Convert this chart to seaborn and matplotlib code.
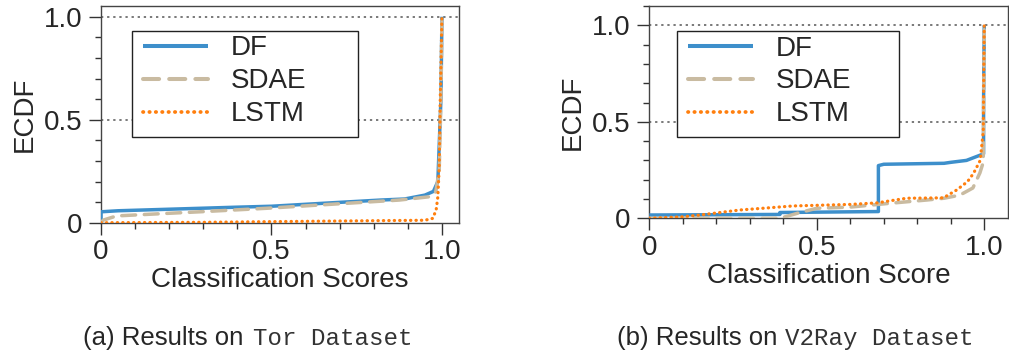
import pandas as pd
import numpy as np
import matplotlib
matplotlib.use('Agg')
import matplotlib.pyplot as plt
import seaborn as sns
from matplotlib.ticker import MultipleLocator, FixedLocator
from matplotlib.patches import Rectangle

sns.set_style('ticks')
plt.rcParams['font.family'] = ['Liberation Sans', 'DejaVu Sans']

# ECDF curves (score, ecdf)
tor_df_x = [0, 0, 0.05, 0.15, 0.39, 0.5, 0.68, 0.82, 0.89, 0.95, 0.975, 0.988, 0.997, 1.0]
tor_df_y = [0, 0.053, 0.058, 0.063, 0.075, 0.08, 0.097, 0.11, 0.115, 0.134, 0.152, 0.2, 0.6, 1.0]
tor_sdae_x = [0, 0.007, 0.046, 0.19, 0.29, 0.485, 0.68, 0.875, 0.963, 0.982, 0.992, 0.997, 1.0]
tor_sdae_y = [0, 0.013, 0.033, 0.045, 0.053, 0.07, 0.09, 0.11, 0.126, 0.15, 0.256, 0.6, 1.0]
tor_lstm_x = [0, 0.3, 0.68, 0.95, 0.973, 0.983, 0.988, 0.992, 0.995, 1.0]
tor_lstm_y = [0, 0.002, 0.008, 0.012, 0.021, 0.062, 0.126, 0.27, 0.6, 1.0]

v2_df_x = [0, 0.39, 0.39, 0.684, 0.684, 0.7, 0.88, 0.9, 0.947, 0.977, 0.998, 0.998, 1.0]
v2_df_y = [0.017, 0.02, 0.03, 0.035, 0.273, 0.28, 0.285, 0.29, 0.30, 0.32, 0.334, 0.6, 1.0]
v2_sdae_x = [0, 0.39, 0.45, 0.5, 0.6, 0.72, 0.83, 0.88, 0.927, 0.966, 0.987, 0.997, 1.0]
v2_sdae_y = [0, 0.0, 0.03, 0.052, 0.058, 0.078, 0.095, 0.104, 0.12, 0.157, 0.235, 0.29, 1.0]
v2_lstm_x = [0, 0.1, 0.151, 0.27, 0.43, 0.6, 0.68, 0.768, 0.878, 0.918, 0.95, 0.968, 0.988, 0.997, 1.0]
v2_lstm_y = [0, 0.008, 0.017, 0.043, 0.064, 0.072, 0.08, 0.104, 0.106, 0.147, 0.19, 0.233, 0.30, 0.45, 1.0]

models = ['DF', 'SDAE', 'LSTM']
colors = {'DF': '#3d8fcb', 'SDAE': '#c9bba1', 'LSTM': '#ff7f0e'}
styles = {'DF': '-', 'SDAE': (0, (4, 2.5)), 'LSTM': (0, (0.1, 1.6))}
widths = {'DF': 2.5, 'SDAE': 2.5, 'LSTM': 2.3}

tor = {'DF': (tor_df_x, tor_df_y), 'SDAE': (tor_sdae_x, tor_sdae_y), 'LSTM': (tor_lstm_x, tor_lstm_y)}
v2 = {'DF': (v2_df_x, v2_df_y), 'SDAE': (v2_sdae_x, v2_sdae_y), 'LSTM': (v2_lstm_x, v2_lstm_y)}

fig = plt.figure(figsize=(10.09, 3.56), dpi=100)
ax1 = fig.add_axes([0.1001, 0.3744, 0.3548, 0.6087])
ax2 = fig.add_axes([0.6435, 0.3868, 0.3552, 0.5963])


def draw(ax, curves, xlim, ylim, xlabel, leg_anchor, box):
    for m in models:
        x, y = curves[m]
        d = pd.DataFrame({'score': x, 'ecdf': y})
        sns.lineplot(data=d, x='score', y='ecdf', ax=ax, estimator=None, sort=False,
                     color=colors[m], linewidth=widths[m], label=m,
                     dash_capstyle='round', solid_capstyle='butt', zorder=3)
        ax.lines[-1].set_linestyle(styles[m])
    for yv in [0.5, 1.0]:
        ax.axhline(yv, color='#555555', linestyle=(0, (1.5, 2.5)), linewidth=1.1, zorder=1)
    ax.set_xlim(*xlim)
    ax.set_ylim(*ylim)
    ax.xaxis.set_major_locator(FixedLocator([0, 0.5, 1.0]))
    ax.yaxis.set_major_locator(FixedLocator([0, 0.5, 1.0]))
    ax.xaxis.set_minor_locator(MultipleLocator(0.1))
    ax.yaxis.set_minor_locator(MultipleLocator(0.1))
    ax.set_xticklabels(['0', '0.5', '1.0'])
    ax.set_yticklabels(['0', '0.5', '1.0'])
    ax.tick_params(which='major', direction='out', length=8.5, width=1, labelsize=20,
                   color='#333333')
    ax.tick_params(which='minor', direction='out', length=4.5, width=1, color='#333333')
    ax.tick_params(axis='x', which='major', pad=3.5)
    ax.tick_params(axis='y', which='major', pad=5)
    for s in ax.spines.values():
        s.set_visible(True)
        s.set_color('#444444')
        s.set_linewidth(1)
    ax.set_xlabel(xlabel, fontsize=20, labelpad=1.5)
    ax.set_ylabel('ECDF', fontsize=20, labelpad=4.5)
    # legend frame drawn as its own box (wider than the entries)
    x0, y0, x1, y1 = box
    ax.add_patch(Rectangle((x0, y0), x1 - x0, y1 - y0, transform=ax.transAxes,
                           facecolor='white', edgecolor='#222222', linewidth=1, zorder=4))
    leg = ax.legend(loc='upper left', bbox_to_anchor=leg_anchor, fontsize=20,
                    handlelength=2.36, handletextpad=0.8, labelspacing=0.25,
                    borderpad=0, frameon=False, borderaxespad=0)
    leg.set_zorder(5)
    for h, m in zip(leg.get_lines(), models):
        h.set_linestyle(styles[m])
        h.set_linewidth(widths[m] + 0.4)


draw(ax1, tor, (0, 1.05), (0, 1.052), 'Classification Scores',
     (0.1165, 0.864), (0.0866, 0.3955, 0.718, 0.8846))
draw(ax2, v2, (0, 1.07), (0, 1.10), 'Classification Score',
     (0.107, 0.861), (0.0765, 0.383, 0.697, 0.882))

mono = ['Liberation Mono', 'DejaVu Sans Mono']
fig.text(0.082, 0.031, '(a) Results on ', fontsize=18.5, ha='left', va='baseline')
fig.text(0.2507, 0.031, 'Tor Dataset', fontsize=17.4, family=mono, color='#333333',
         ha='left', va='baseline')
fig.text(0.6112, 0.031, '(b) Results on ', fontsize=18.5, ha='left', va='baseline')
fig.text(0.778, 0.031, 'V2Ray Dataset', fontsize=17.4, family=mono, color='#333333',
         ha='left', va='baseline')

fig.savefig('out.png', dpi=100)
